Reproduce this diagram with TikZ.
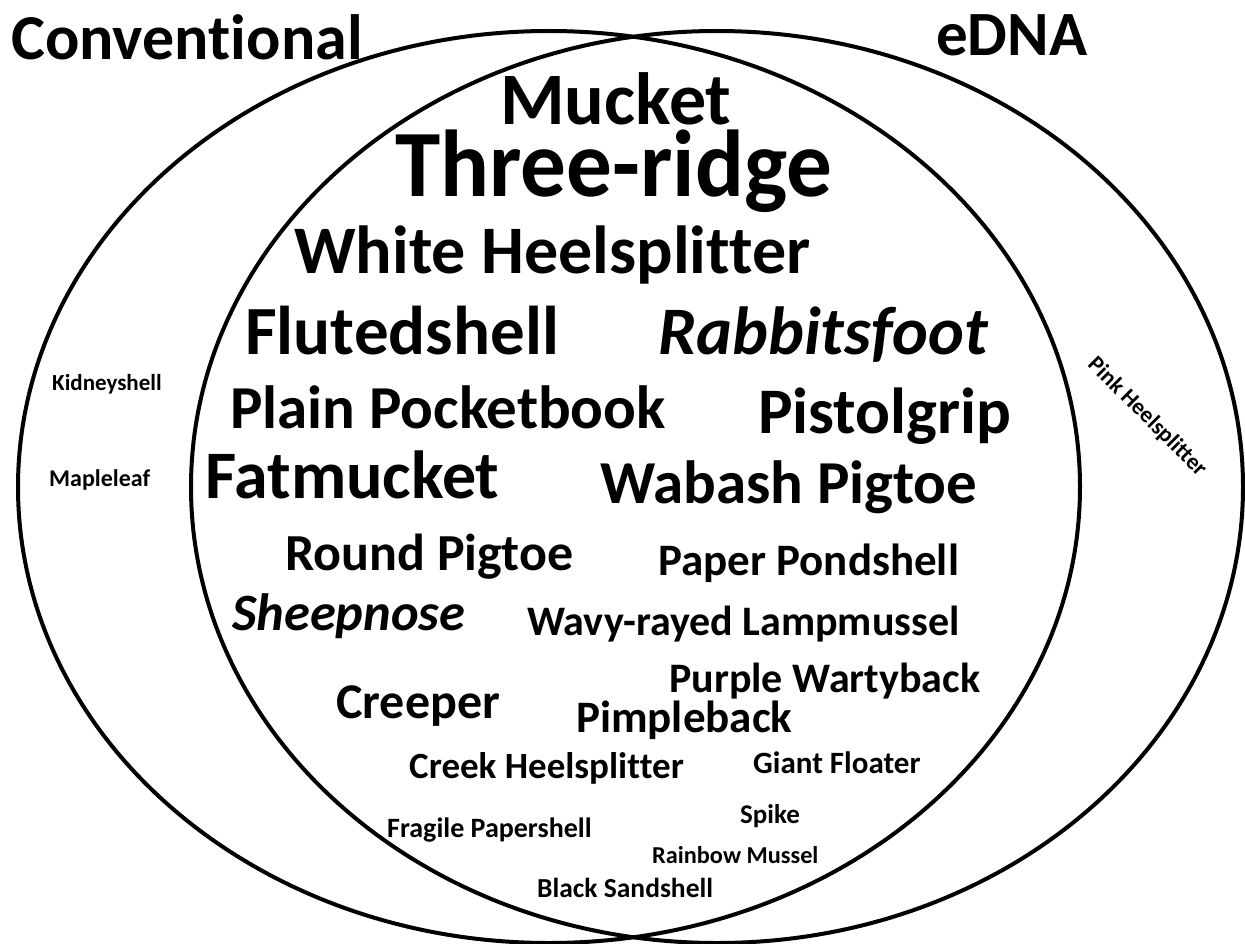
\documentclass[tikz,border=0pt]{standalone}
\usepackage{fontspec}
\setmainfont{Carlito}[Ligatures=NoCommon]
\tikzset{
  lbl/.style={anchor=base west, inner sep=0pt, font=\bfseries\fontsize{#1}{#1}\selectfont},
  ilbl/.style={anchor=base west, inner sep=0pt, font=\bfseries\itshape\fontsize{#1}{#1}\selectfont},
  setline/.style={line width=4pt, black}
}
\begin{document}
\begin{tikzpicture}[x=1pt,y=-1pt]
\useasboundingbox (0,0) rectangle (1245,944);
\fill[white] (0,0) rectangle (1245,944);
% sets
\draw[setline] (549,487) ellipse [x radius=531pt, y radius=456pt];
\draw[setline] (717,487) ellipse [x radius=526pt, y radius=456pt];
% set titles
\node[lbl=64] (conv) at (11,60) {Conventional};
\node[lbl=63] (edna) at (936,56) {eDNA};
% conventional only
\node[lbl=23] (kidney) at (52,390) {Kidneyshell};
\node[lbl=24] (maple) at (49,486) {Mapleleaf};
% eDNA only
\node[anchor=center, inner sep=0pt, font=\bfseries\fontsize{23}{23}\selectfont, rotate=-45] (pink) at (1147,417) {Pink Heelsplitter};
% both
\node[lbl=74] (mucket) at (500,125) {Mucket};
\node[lbl=95, xscale=0.96] (three) at (395,197) {Three-ridge};
\node[lbl=68] (white) at (294,273) {White Heelsplitter};
\node[lbl=69] (fluted) at (245,354) {Flutedshell};
\node[ilbl=68] (rabbit) at (658,354) {Rabbitsfoot};
\node[lbl=61] (plain) at (230,428) {Plain Pocketbook};
\node[lbl=65] (pistol) at (758,433) {Pistolgrip};
\node[lbl=68] (fat) at (205,498) {Fatmucket};
\node[lbl=61] (wabash) at (600,503) {Wabash Pigtoe};
\node[lbl=52] (round) at (285,570) {Round Pigtoe};
\node[lbl=45] (paper) at (658,575) {Paper Pondshell};
\node[ilbl=52.5] (sheep) at (232,630) {Sheepnose};
\node[lbl=42] (wavy) at (527,635) {Wavy-rayed Lampmussel};
\node[lbl=42] (purple) at (669,692) {Purple Wartyback};
\node[lbl=50] (creeper) at (336,718) {Creeper};
\node[lbl=45] (pimple) at (576,732) {Pimpleback};
\node[lbl=37] (creek) at (409,778) {Creek Heelsplitter};
\node[lbl=31] (giant) at (753,773) {Giant Floater};
\node[lbl=28] (fragile) at (387,837) {Fragile Papershell};
\node[lbl=27] (spike) at (740,823) {Spike};
\node[lbl=24.3] (rainbow) at (652,863) {Rainbow Mussel};
\node[lbl=27.5] (black) at (537,897) {Black Sandshell};
\end{tikzpicture}
\end{document}
